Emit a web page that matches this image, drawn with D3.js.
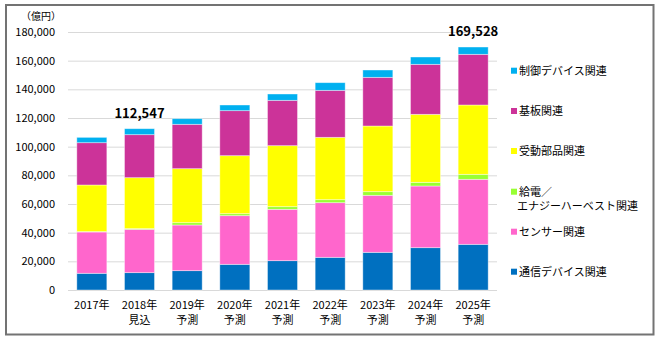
<!DOCTYPE html>
<html><head><meta charset="utf-8">
<script src="https://cdn.jsdelivr.net/npm/d3@7"></script>
<style>body{margin:0;background:#fff}svg{display:block}text{font-family:"Noto Sans CJK JP","Noto Sans",sans-serif}</style>
</head><body><svg id="c" width="660" height="341"></svg>
<script>
const years = ["2017年","2018年","2019年","2020年","2021年","2022年","2023年","2024年","2025年"];
const subLabels = ["","見込","予測","予測","予測","予測","予測","予測","予測"];
const seriesNames = ["通信デバイス関連","センサー関連","給電／エナジーハーベスト関連","受動部品関連","基板関連","制御デバイス関連"];
const seriesColors = ["#0070C0","#FF66CC","#99FF33","#FFFF00","#CC3399","#00B0F0"];
const tsushin = [11650,12100,13490,17910,20460,22790,26280,29530,31860];
const sensor  = [28820,30230,31860,33950,35820,38140,39770,43030,45350];
const kyuden  = [300,500,1630,1390,1860,2090,2560,2560,3490];
const judo    = [32490,35540,37670,40470,42560,43490,45810,47440,48370];
const kiban   = [29510,30000,30950,31400,31630,32790,33950,34880,35350];
const seigyo  = [3730,4177,3940,3950,4420,5350,5120,5120,5108];
const totalLabels = [{i:1,text:"112,547"},{i:8,text:"169,528"}];
const yTicks = [0,20000,40000,60000,80000,100000,120000,140000,160000,180000];
const yTickLabels = ["0","20,000","40,000","60,000","80,000","100,000","120,000","140,000","160,000","180,000"];

const seriesVals = [tsushin,sensor,kyuden,judo,kiban,seigyo];
const rows = years.map((y,i)=>{const o={year:y};seriesVals.forEach((s,k)=>o["s"+k]=s[i]);return o;});
const keys = seriesVals.map((s,k)=>"s"+k);
const stack = d3.stack().keys(keys)(rows);

const svg = d3.select("#c");
svg.append("rect").attr("x",6).attr("y",5).attr("width",647.5).attr("height",329.5)
  .attr("fill","#fff").attr("stroke","#737373").attr("stroke-width",2);

const x = d3.scaleBand().domain(years).range([68,497]).paddingInner(0.37).paddingOuter(0.185);
const y = d3.scaleLinear().domain([0,180000]).range([290,32]);

const g = svg.append("g");
g.selectAll("line.grid").data(yTicks).join("line").attr("class","grid")
  .attr("x1",68).attr("x2",497).attr("y1",d=>y(d)+0.5).attr("y2",d=>y(d)+0.5)
  .attr("stroke","#d9d9d9").attr("stroke-width",1);

g.selectAll("text.yt").data(yTicks).join("text").attr("class","yt")
  .attr("x",55).attr("y",d=>y(d)).attr("dy","0.35em").attr("text-anchor","end")
  .attr("font-size",11).attr("fill","#000").text((d,i)=>yTickLabels[i]);

svg.append("text").attr("x",41).attr("y",16).attr("dy","0.35em").attr("text-anchor","middle")
  .attr("font-size",10).text("（億円）");

stack.forEach((layer,k)=>{
  g.selectAll("rect.s"+k).data(layer).join("rect").attr("class","s"+k)
    .attr("x",(d,i)=>x(years[i])).attr("width",x.bandwidth())
    .attr("y",d=>y(d[1])).attr("height",d=>y(d[0])-y(d[1]))
    .attr("fill",seriesColors[k]).attr("stroke","rgba(255,255,255,0.5)").attr("stroke-width",0.8);
});

const xl = svg.append("g");
years.forEach((yr,i)=>{
  const cx = x(yr)+x.bandwidth()/2;
  xl.append("text").attr("x",cx).attr("y",305).attr("dy","0.35em").attr("text-anchor","middle").attr("font-size",11).text(yr);
  if(subLabels[i]) xl.append("text").attr("x",cx).attr("y",320).attr("dy","0.35em").attr("text-anchor","middle").attr("font-size",11).text(subLabels[i]);
});

const totals = years.map((yr,i)=>seriesVals.reduce((a,s)=>a+s[i],0));
totalLabels.forEach(t=>{
  svg.append("text").attr("x",x(years[t.i])+x.bandwidth()/2).attr("y",y(totals[t.i])-11)
    .attr("text-anchor","middle").attr("font-size",13).attr("font-weight","bold").text(t.text);
});

// legend (top to bottom: reversed series)
const legendY = [271.7,231.7,191.7,151,111,70.7];
seriesNames.forEach((n,k)=>{
  const ly = legendY[k];
  svg.append("rect").attr("x",511).attr("y",ly-3).attr("width",6).attr("height",6).attr("fill",seriesColors[k]);
  const parts = n.includes("／") ? ["給電／","エナジーハーベスト関連"] : [n];
  parts.forEach((p,j)=>{
    svg.append("text").attr("x",j===0?519:517).attr("y",ly+j*14.5).attr("dy","0.35em").attr("font-size",11).text(p);
  });
});
</script></body></html>
